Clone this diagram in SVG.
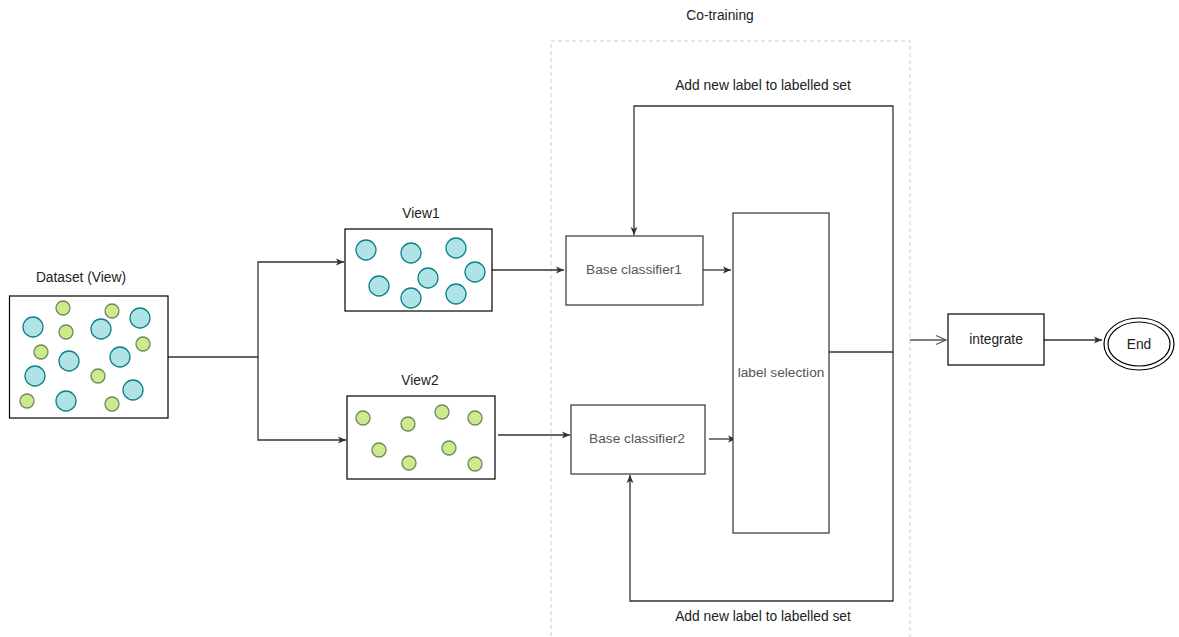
<svg xmlns="http://www.w3.org/2000/svg" width="1179" height="637" viewBox="0 0 1179 637">
<style>
.box{fill:#fff;stroke:#000;stroke-width:1.2}
.gbox{fill:#fff;stroke:#333;stroke-width:1.2}
.c{fill:#b0e3e6;stroke:#0e8088;stroke-width:1.3}
.g{fill:#cdeb8b;stroke:#6d8764;stroke-width:1.3}
.t{font-family:"Liberation Sans",Arial,sans-serif;font-size:13.8px;fill:#222;text-anchor:middle}
.ti{font-family:"Liberation Sans",Arial,sans-serif;font-size:13.7px;fill:#555;text-anchor:middle}
.ln{fill:none;stroke:#333;stroke-width:1.3}
</style>
<defs>
<marker id="ah" markerWidth="10" markerHeight="10" refX="9" refY="5" orient="auto" markerUnits="userSpaceOnUse">
<path d="M1,1.5 L9,5 L1,8.5 L3,5 Z" fill="#333"/>
</marker>
<marker id="ao" markerWidth="14" markerHeight="12" refX="12" refY="6" orient="auto" markerUnits="userSpaceOnUse">
<path d="M2,1.5 L12,6 L2,10.5" fill="none" stroke="#555" stroke-width="1.3"/>
</marker>
</defs>

<g id="cotraining">
<rect x="551" y="41" width="359" height="600" fill="none" stroke="#ccc" stroke-width="1" stroke-dasharray="4 3"/>
<text class="t" x="720" y="20">Co-training</text>
</g>

<g id="connectors">
<path class="ln" d="M168,357 H258 V262 H344" marker-end="url(#ah)"/>
<path class="ln" d="M258,357 V440 H346" marker-end="url(#ah)"/>
<path class="ln" d="M492,270 H564" marker-end="url(#ah)"/>
<path class="ln" d="M703,270 H731" marker-end="url(#ah)"/>
<path class="ln" d="M498,435 H570" marker-end="url(#ah)"/>
<path class="ln" d="M709,439 H736" marker-end="url(#ah)"/>
<path class="ln" d="M829,352 H893 V106 H634 V235" marker-end="url(#ah)"/>
<path class="ln" d="M893,352 V601 H630 V475" marker-end="url(#ah)"/>
<path d="M910,340 H946" fill="none" stroke="#555" stroke-width="1.3" marker-end="url(#ao)"/>
<path class="ln" d="M1044,340 H1102" marker-end="url(#ah)"/>
<text class="t" x="763" y="90">Add new label to labelled set</text>
<text class="t" x="763" y="621">Add new label to labelled set</text>
</g>

<g id="dataset">
<rect class="box" x="9.5" y="296" width="158.5" height="122"/>
<text class="t" x="81" y="282">Dataset (View)</text>
<circle class="g" cx="63" cy="308" r="7"/>
<circle class="g" cx="112" cy="311" r="7"/>
<circle class="c" cx="140" cy="318" r="10"/>
<circle class="c" cx="33" cy="327" r="10"/>
<circle class="g" cx="66" cy="332" r="7"/>
<circle class="c" cx="101" cy="329" r="10"/>
<circle class="g" cx="143" cy="344" r="7"/>
<circle class="g" cx="41" cy="352" r="7"/>
<circle class="c" cx="69" cy="361" r="10"/>
<circle class="c" cx="120" cy="357" r="10"/>
<circle class="c" cx="35" cy="376" r="10"/>
<circle class="g" cx="98" cy="376" r="7"/>
<circle class="c" cx="133" cy="390" r="10"/>
<circle class="g" cx="27" cy="401" r="7"/>
<circle class="c" cx="66" cy="401" r="10"/>
<circle class="g" cx="112" cy="404" r="7"/>
</g>

<g id="view1">
<rect class="box" x="345" y="229" width="147" height="82"/>
<text class="t" x="421" y="218">View1</text>
<circle class="c" cx="366" cy="250" r="10"/>
<circle class="c" cx="411" cy="253" r="10"/>
<circle class="c" cx="456" cy="248" r="10"/>
<circle class="c" cx="475" cy="272" r="10"/>
<circle class="c" cx="428" cy="278" r="10"/>
<circle class="c" cx="379" cy="286" r="10"/>
<circle class="c" cx="411" cy="298" r="10"/>
<circle class="c" cx="456" cy="294" r="10"/>
</g>

<g id="view2">
<rect class="box" x="347" y="396" width="148" height="83"/>
<text class="t" x="420" y="385">View2</text>
<circle class="g" cx="363" cy="418" r="7"/>
<circle class="g" cx="408" cy="424" r="7"/>
<circle class="g" cx="442" cy="412" r="7"/>
<circle class="g" cx="475" cy="418" r="7"/>
<circle class="g" cx="379" cy="450" r="7"/>
<circle class="g" cx="449" cy="448" r="7"/>
<circle class="g" cx="409" cy="463" r="7"/>
<circle class="g" cx="475" cy="464" r="7"/>
</g>

<g id="base1">
<rect class="gbox" x="566" y="236" width="137" height="69"/>
<text class="ti" x="634" y="274">Base classifier1</text>
</g>

<g id="base2">
<rect class="gbox" x="571" y="405" width="134" height="69"/>
<text class="ti" x="637" y="443">Base classifier2</text>
</g>

<g id="labelselection">
<rect class="gbox" x="733" y="213" width="96" height="320"/>
<text class="ti" x="781" y="377">label selection</text>
</g>

<g id="integrate">
<rect class="box" x="948" y="314" width="96" height="51"/>
<text class="t" x="996" y="344">integrate</text>
</g>

<g id="end">
<ellipse cx="1139" cy="344" rx="35" ry="26" fill="#fff" stroke="#000" stroke-width="1.2"/>
<ellipse cx="1139" cy="344" rx="31" ry="22" fill="#fff" stroke="#000" stroke-width="1.2"/>
<text class="t" x="1139" y="349">End</text>
</g>
</svg>
